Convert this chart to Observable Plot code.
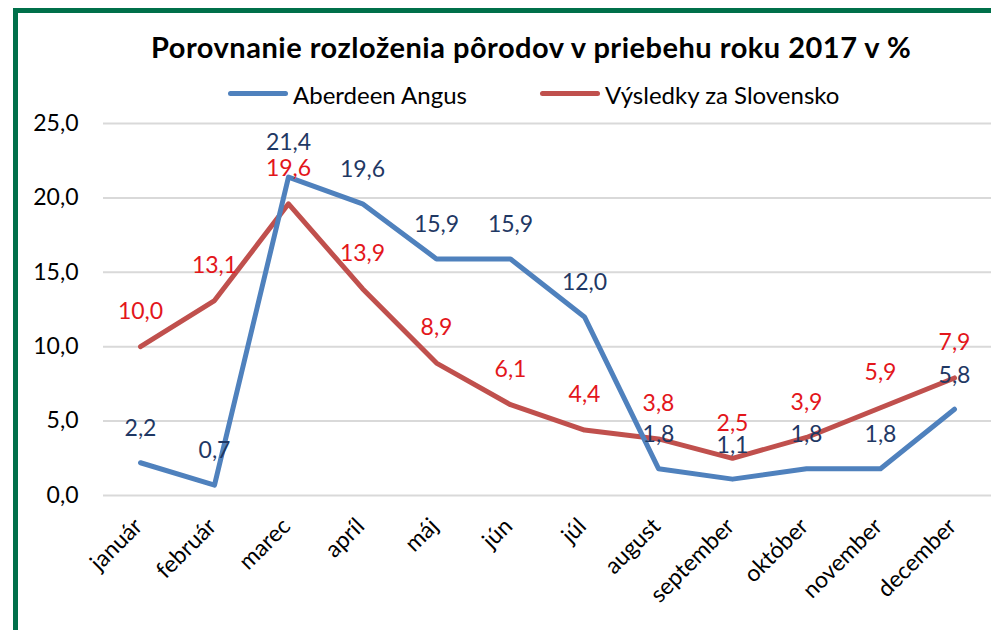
<!DOCTYPE html>
<html><head><meta charset="utf-8">
<script src="https://cdn.jsdelivr.net/npm/d3@7"></script>
<script src="https://cdn.jsdelivr.net/npm/@observablehq/plot@0.6"></script>
<style>
html,body{margin:0;padding:0;background:#fff;}
#wrap{position:relative;width:991px;height:630px;overflow:hidden;font-family:Lato,sans-serif;}
#btop{position:absolute;left:13px;top:8px;width:978px;height:5px;background:#00704a;}
#bleft{position:absolute;left:13px;top:8px;width:5px;height:622px;background:#00704a;}
#title{position:absolute;left:151px;top:29px;font-weight:bold;font-size:29px;letter-spacing:0.5px;color:#000;white-space:nowrap;line-height:36px;}
.leg{position:absolute;top:80px;font-size:24px;line-height:29px;color:#000;white-space:nowrap;}
.sw{position:absolute;top:91px;width:60px;height:5px;border-radius:3px;}
#chart{position:absolute;left:0;top:110px;}
</style></head>
<body><div id="wrap">
<div id="btop"></div><div id="bleft"></div>
<div id="title">Porovnanie rozloženia pôrodov v priebehu roku 2017 v %</div>
<div class="sw" style="left:228px;background:#4f81bd"></div><div class="leg" style="left:293px">Aberdeen Angus</div>
<div class="sw" style="left:540px;background:#c0504d"></div><div class="leg" style="left:605px">Výsledky za Slovensko</div>
<div id="chart"></div>
</div>
<script>
const months = ["január","február","marec","apríl","máj","jún","júl","august","september","október","november","december"];
const angus = [2.2,0.7,21.4,19.6,15.9,15.9,12.0,1.8,1.1,1.8,1.8,5.8];
const slovensko = [10.0,13.1,19.6,13.9,8.9,6.1,4.4,3.8,2.5,3.9,5.9,7.9];
const yTicks = [0,5,10,15,20,25];

const fmt = d => d.toFixed(1).replace(".", ",");
const A = months.map((m,i)=>({m, v: angus[i]}));
const S = months.map((m,i)=>({m, v: slovensko[i]}));

const chart = Plot.plot({
  width: 991, height: 520,
  marginLeft: 103, marginRight: 0, marginTop: 13, marginBottom: 135,
  style: {fontFamily: "Lato, sans-serif", background: "transparent", overflow: "visible"},
  x: {type: "point", domain: months, padding: 0.5, label: null, axis: null},
  y: {domain: [0,25], ticks: yTicks, label: null},
  marks: [
    Plot.gridY(yTicks, {stroke: "#d9d9d9", strokeWidth: 2, strokeOpacity: 1}),
    Plot.axisY(yTicks, {tickSize: 0, tickPadding: 25, tickFormat: fmt, fontSize: 23, fill: "#000"}),
    Plot.text(months, {x: d => d, frameAnchor: "bottom", textAnchor: "end", lineAnchor: "middle", rotate: -45, dx: -2, dy: 27, fontSize: 23, fill: "#000"}),
    Plot.line(S, {x: "m", y: "v", stroke: "#c0504d", strokeWidth: 5, strokeLinejoin: "round", strokeLinecap: "round"}),
    Plot.line(A, {x: "m", y: "v", stroke: "#4f81bd", strokeWidth: 5, strokeLinejoin: "round", strokeLinecap: "round"}),
    Plot.text(S, {x: "m", y: "v", text: d => fmt(d.v), dy: -35, fill: "#e3161b", fontSize: 23}),
    Plot.text(A, {x: "m", y: "v", text: d => fmt(d.v), dy: -34, fill: "#1f3864", fontSize: 23})
  ]
});
document.getElementById("chart").appendChild(chart);
</script>
</body></html>
